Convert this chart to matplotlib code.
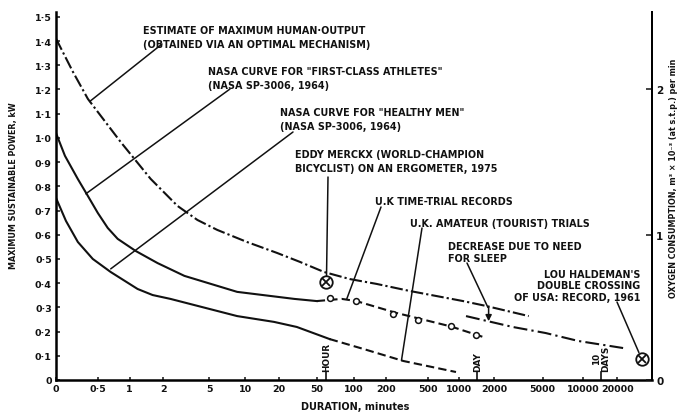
import numpy as np
import matplotlib
matplotlib.use("Agg")
import matplotlib.pyplot as plt

plt.rcParams['font.family'] = ['DejaVu Sans']
plt.rcParams['lines.scale_dashes'] = False

# ---- duration axis (hand-ruled, roughly logarithmic with a zero at the origin)
x_tick_values = [0, 0.5, 1, 2, 5, 10, 20, 50, 100, 200, 500, 1000, 2000,
                 5000, 10000, 20000]
x_tick_labels = ['0', '0·5', '1', '2', '5', '10', '20', '50', '100', '200',
                 '500', '1000', '2000', '5000', '10000', '20000']
y_tick_values = [i / 10 for i in range(16)]
y_tick_labels = ['0'] + [f'{v:.1f}'.replace('.', '·') for v in y_tick_values[1:]]
o2_tick_values = [0, 1, 2]

# ---- curves: duration in minutes, power in kW
max_t = [0, 0.146, 0.334, 0.834, 1.55, 2.67, 3.97, 5.84, 10.4, 19.2, 33.2,
         57.4, 93, 162, 331, 1082, 1706, 3846]
max_p = [1.41, 1.273, 1.161, 0.983, 0.831, 0.719, 0.661, 0.620, 0.570,
         0.525, 0.488, 0.446, 0.417, 0.397, 0.368, 0.326, 0.306, 0.264]

athlete_t = [0, 0.070, 0.201, 0.334, 0.5, 0.631, 0.783, 1.139, 1.78, 3.07,
             8.59, 29.0, 50]
athlete_p = [1.02, 0.926, 0.83, 0.76, 0.690, 0.628, 0.583, 0.533, 0.483,
             0.430, 0.364, 0.335, 0.326]

trial_t = [50, 80, 106, 249, 835, 1607]
trial_p = [0.326, 0.335, 0.326, 0.277, 0.221, 0.178]
record_t = [64, 106, 233, 402, 835, 1400]
record_p = [0.339, 0.326, 0.273, 0.248, 0.223, 0.186]

healthy_t = [0, 0.079, 0.201, 0.411, 0.674, 1.186, 1.614, 2.31, 8.59, 18.1,
             30.9, 63.8]
healthy_p = [0.752, 0.657, 0.570, 0.500, 0.446, 0.376, 0.351, 0.335, 0.264,
             0.240, 0.219, 0.169]
tourist_t = [63.8, 123.6, 290, 933]
tourist_p = [0.169, 0.128, 0.0785, 0.033]

sleep_t = [1148, 1884, 2851, 5260, 9190, 22140]
sleep_p = [0.264, 0.240, 0.219, 0.194, 0.161, 0.132]

merckx_t, merckx_p = 60, 0.405
haldeman_t, haldeman_p = 30690, 0.087

markers_t = [60, 1440, 14400]
markers_txt = ['HOUR', 'DAY', '10\nDAYS']

# ---- scale: piecewise log spacing of the ruled ticks
_G = np.log10(np.array(x_tick_values + [79700.0]) + 0.3)
_U = np.array([58, 100, 132, 166, 212, 248, 282, 320, 357, 390, 432, 463,
               498, 547, 588, 622, 701], dtype=float)


def fwd(t):
    t = np.asarray(t, dtype=float)
    return np.interp(np.log10(np.clip(t, 0, None) + 0.3), _G, _U)


def inv(u):
    u = np.asarray(u, dtype=float)
    return 10 ** np.interp(u, _U, _G) - 0.3


W, H = 680, 414
fig = plt.figure(figsize=(W / 100, H / 100), dpi=100)
ax = fig.add_axes([56 / W, 1 - 381 / H, (652 - 56) / W, (381 - 13) / H])
ax.set_xscale('function', functions=(fwd, inv))
ax.set_xlim(0, 36800)
ax.set_ylim(0, 1.52)

ink = '#111111'
lw = 1.5

ax.plot(max_t, max_p, color=ink, lw=lw, dashes=(9, 2.2, 1.6, 2.2))
ax.plot(athlete_t, athlete_p, color=ink, lw=lw)
ax.plot(trial_t, trial_p, color=ink, lw=lw, dashes=(6, 3))
ax.plot(record_t, record_p, ls='none', marker='o', ms=4.2, mfc='white',
        mec=ink, mew=1.1)
ax.plot(healthy_t, healthy_p, color=ink, lw=lw)
ax.plot(tourist_t, tourist_p, color=ink, lw=lw, dashes=(6, 3))
ax.plot(sleep_t, sleep_p, color=ink, lw=lw, dashes=(10, 3, 1.6, 3))

for (t, p) in [(merckx_t, merckx_p), (haldeman_t, haldeman_p)]:
    ax.plot([t], [p], ls='none', marker='o', ms=9, mfc='white', mec=ink, mew=1.3)
    ax.plot([t], [p], ls='none', marker='x', ms=5.5, mec=ink, mew=1.3)

# ---- axes styling
for side in ['left', 'bottom']:
    ax.spines[side].set_linewidth(1.8)
ax.spines['right'].set_linewidth(1.4)
ax.spines['top'].set_visible(False)

ax.set_xticks(x_tick_values)
ax.set_xticklabels(x_tick_labels)
ax.xaxis.set_minor_locator(matplotlib.ticker.NullLocator())
ax.set_yticks(y_tick_values)
ax.set_yticklabels(y_tick_labels)
ax.tick_params(axis='both', direction='in', length=3, width=1.1,
               labelsize=6.8, pad=3, colors=ink)
ax.tick_params(axis='x', length=2)
for lab in ax.get_xticklabels() + ax.get_yticklabels():
    lab.set_fontweight('bold')

ax2 = ax.twinx()
ax2.set_ylim(0, 1.52 / 0.6)
ax2.set_yticks(o2_tick_values)
ax2.tick_params(axis='y', direction='in', length=4, width=1.1, labelsize=7.5,
                pad=3, colors=ink)
for lab in ax2.get_yticklabels():
    lab.set_fontweight('bold')
for side in ['top', 'left', 'bottom']:
    ax2.spines[side].set_visible(False)
ax2.spines['right'].set_linewidth(1.4)


def fp(x, y):
    return (x / W, 1 - y / H)


tk = dict(fontsize=6.9, fontweight='bold', color=ink, va='center')

fig.text(*fp(14, 186), 'MAXIMUM SUSTAINABLE POWER, kW', rotation=90,
         ha='center', va='center', fontsize=5.8, fontweight='bold', color=ink)
fig.text(*fp(673, 178),
         'OXYGEN CONSUMPTION, m³ × 10⁻³ (at s.t.p.) per min', rotation=90,
         ha='center', va='center', fontsize=5.8, fontweight='bold', color=ink)
fig.text(*fp(355, 407), 'DURATION, minutes', ha='center', va='center',
         fontsize=7, fontweight='bold', color=ink)

fig.text(*fp(143, 31), 'ESTIMATE OF MAXIMUM HUMAN·OUTPUT', ha='left', **tk)
fig.text(*fp(143, 45), '(OBTAINED VIA AN OPTIMAL MECHANISM)', ha='left', **tk)
fig.text(*fp(208, 72), 'NASA CURVE FOR "FIRST-CLASS ATHLETES"', ha='left', **tk)
fig.text(*fp(208, 86), '(NASA SP-3006, 1964)', ha='left', **tk)
fig.text(*fp(280, 113), 'NASA CURVE FOR "HEALTHY MEN"', ha='left', **tk)
fig.text(*fp(280, 127), '(NASA SP-3006, 1964)', ha='left', **tk)
fig.text(*fp(295, 155), 'EDDY MERCKX (WORLD-CHAMPION', ha='left', **tk)
fig.text(*fp(295, 169), 'BICYCLIST) ON AN ERGOMETER, 1975', ha='left', **tk)
fig.text(*fp(375, 202), 'U.K TIME-TRIAL RECORDS', ha='left', **tk)
fig.text(*fp(410, 224), 'U.K. AMATEUR (TOURIST) TRIALS', ha='left', **tk)
fig.text(*fp(448, 247), 'DECREASE DUE TO NEED', ha='left', **tk)
fig.text(*fp(448, 259), 'FOR SLEEP', ha='left', **tk)
fig.text(*fp(640, 275), "LOU HALDEMAN'S", ha='right', **tk)
fig.text(*fp(640, 286), 'DOUBLE CROSSING', ha='right', **tk)
fig.text(*fp(640, 298), 'OF USA: RECORD, 1961', ha='right', **tk)

lead = dict(arrowstyle='-', color=ink, lw=1.1, shrinkA=0, shrinkB=0)


def leader(xy, start, shrink=0):
    d = dict(lead)
    d['shrinkB'] = shrink
    ax.annotate('', xy=xy, xycoords='data', xytext=(start[0], H - start[1]),
                textcoords='figure pixels', arrowprops=d)


leader((0.36, 1.15), (162, 45))
leader((0.304, 0.769), (230, 90))
leader((0.674, 0.459), (293, 133))
leader((merckx_t, merckx_p), (328, 178), shrink=4.5)
leader((88, 0.335), (381, 208))
leader((278, 0.08), (422, 229))
leader((1774, 0.30), (467, 264))
leader((haldeman_t, haldeman_p), (617, 303), shrink=5)
ax.annotate('', xy=(1800, 0.243), xytext=(1800, 0.30),
            arrowprops=dict(arrowstyle='-|>,head_width=0.18,head_length=0.35',
                            color=ink, lw=1.1, shrinkA=0, shrinkB=0))

for t, txt in zip(markers_t, markers_txt):
    ax.plot([t, t], [0, 0.035], color=ink, lw=1.2)
    ax.text(t, 0.038, txt, rotation=90, ha='center', va='bottom',
            fontsize=6.4, fontweight='bold', color=ink, linespacing=1.0)

fig.savefig('out.png', dpi=100)
